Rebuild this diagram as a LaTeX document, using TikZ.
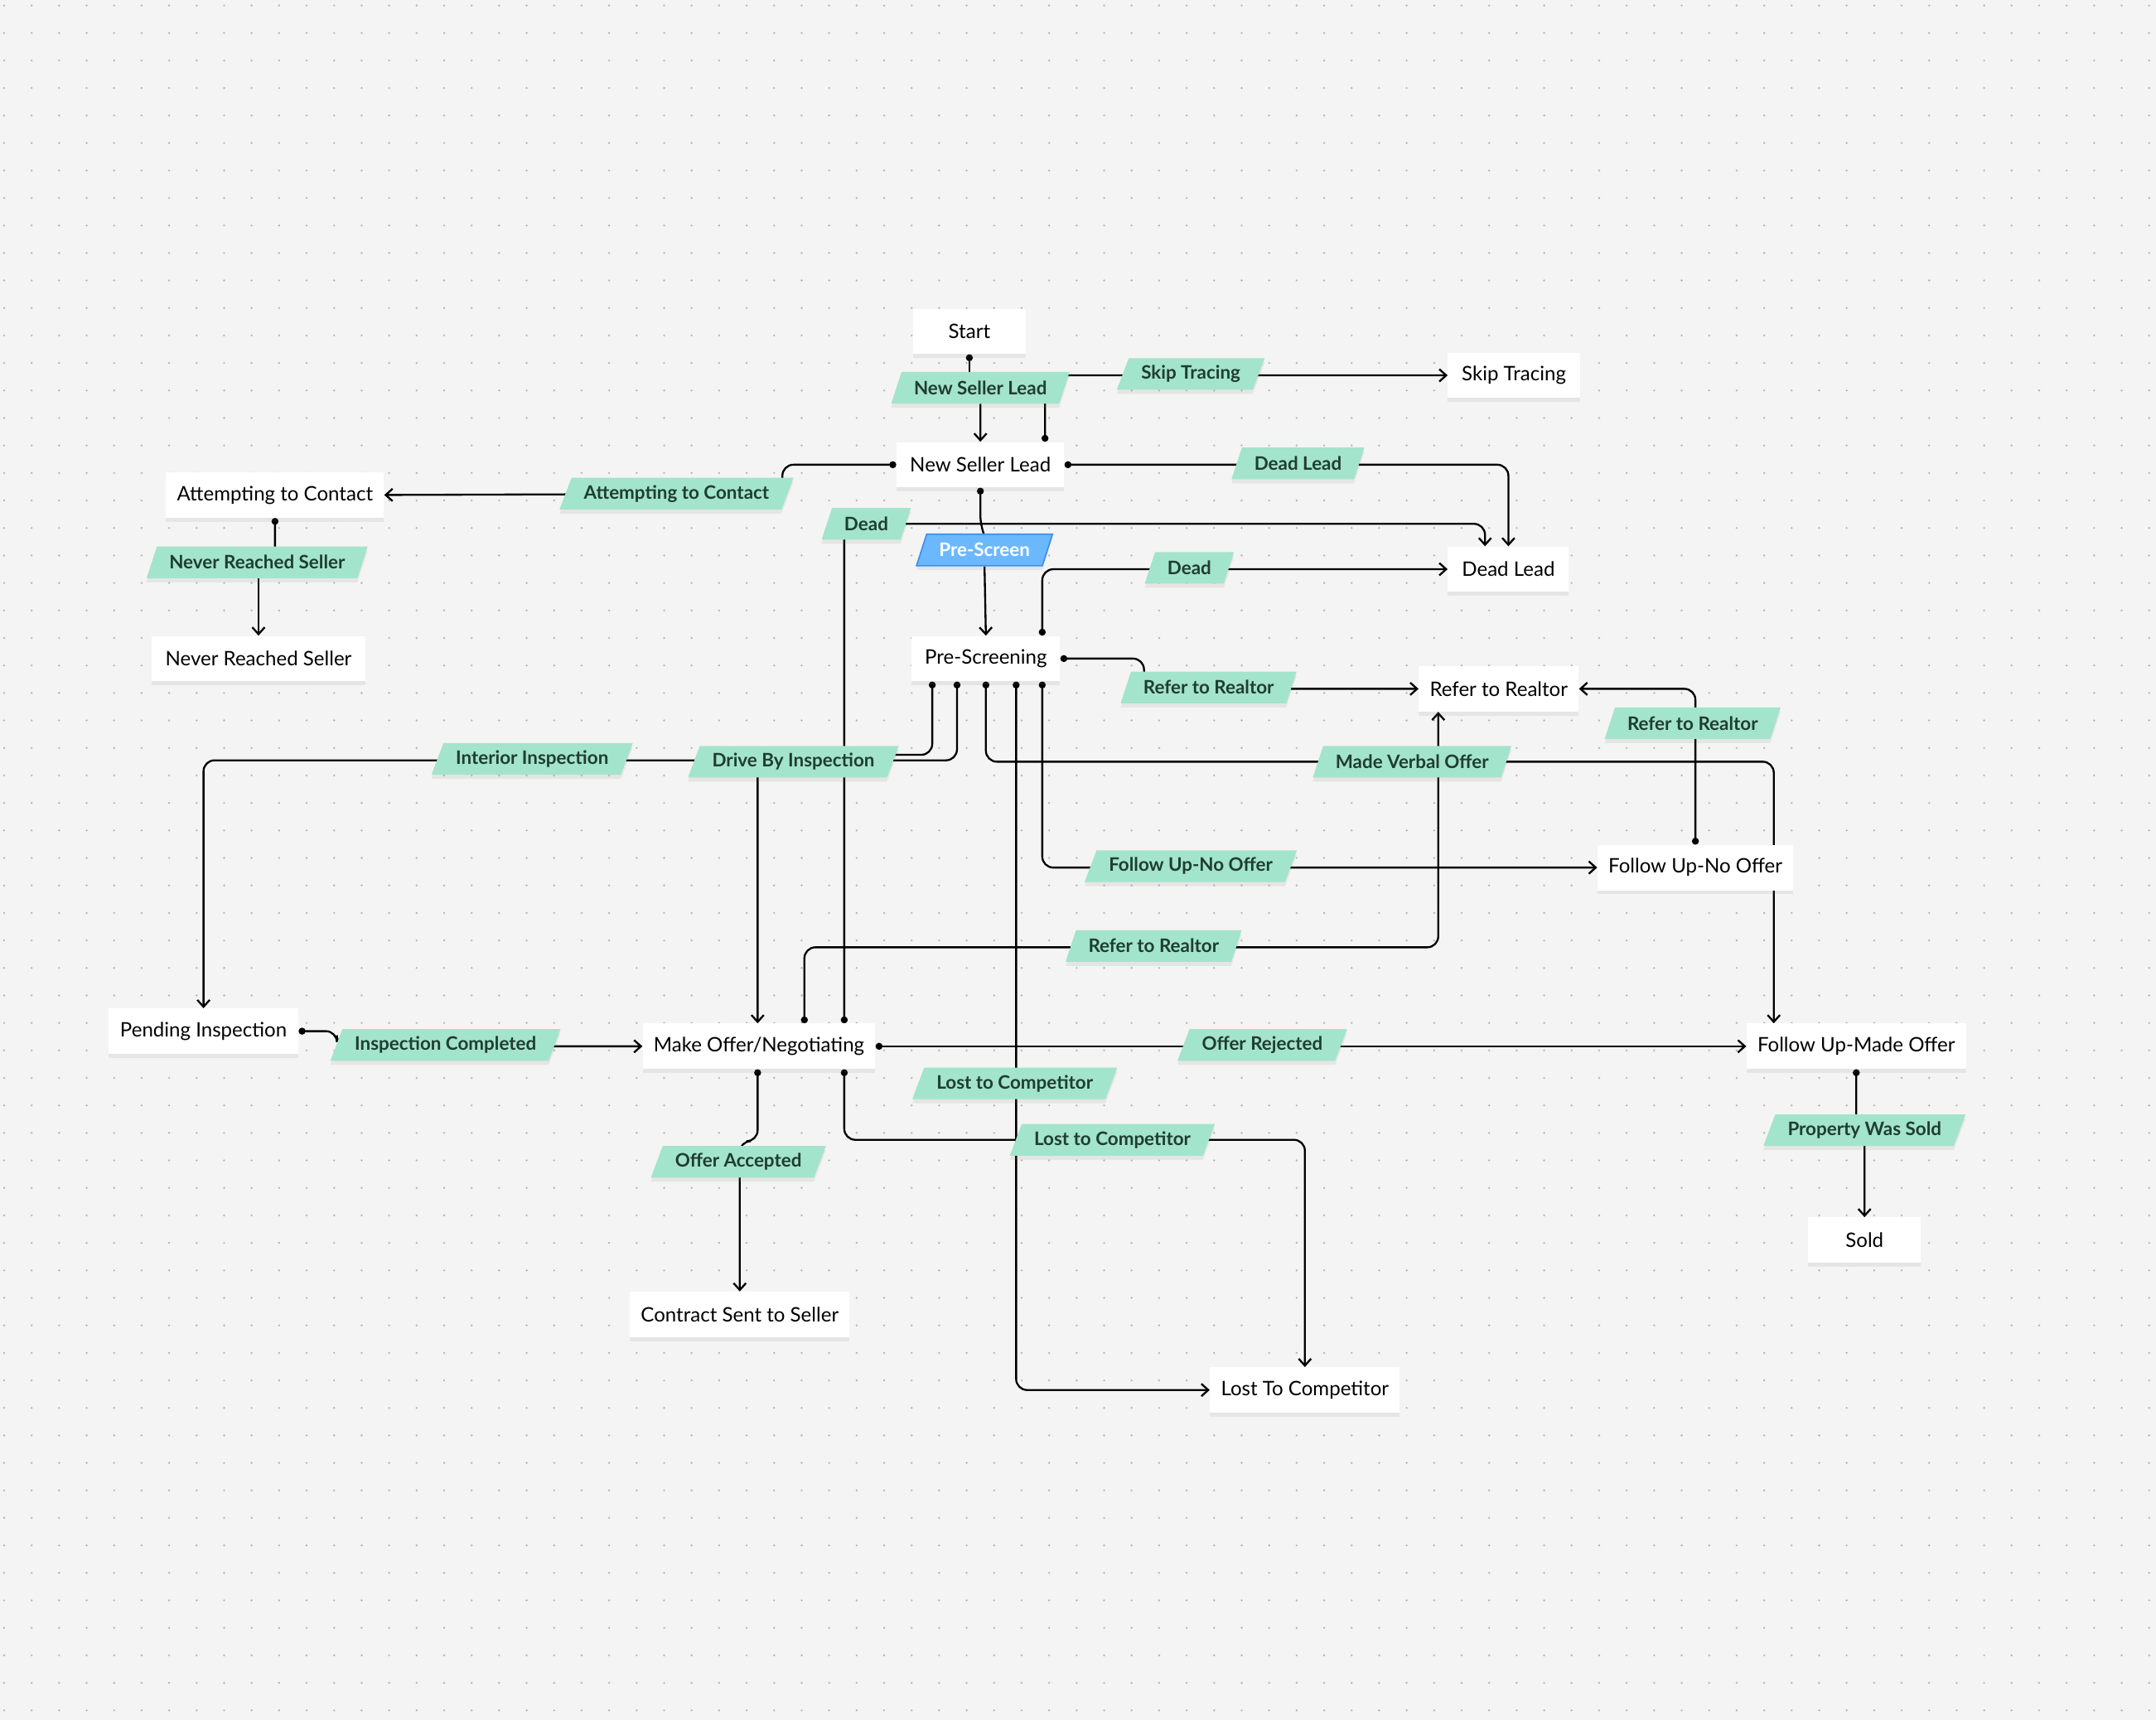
\documentclass[tikz,border=0pt]{standalone}
\usepackage{fontspec}
\setmainfont{Lato}
\usetikzlibrary{arrows.meta,shapes.geometric,shadows}
\definecolor{bgc}{HTML}{F4F4F4}
\definecolor{dotc}{HTML}{B5B5B5}
\definecolor{lblf}{HTML}{A3E4CC}
\definecolor{lblt}{HTML}{1F3D33}
\definecolor{bluef}{HTML}{6BB8FF}
\definecolor{blued}{HTML}{3D8FE8}
\pgfdeclarelayer{grid}\pgfdeclarelayer{edges}
\pgfsetlayers{grid,edges,main}
\tikzset{
 box/.style={draw=none,fill=white,minimum height=33pt,inner xsep=8pt,font=\fontsize{14.5}{16}\selectfont,
   drop shadow={opacity=0.12,shadow xshift=0pt,shadow yshift=-3pt}},
 lbl/.style={trapezium,trapezium left angle=62,trapezium right angle=118,trapezium stretches body,
   fill=lblf,text=lblt,minimum height=23pt,inner xsep=9pt,inner ysep=2pt,font=\bfseries\fontsize{13.5}{15}\selectfont,
   drop shadow={opacity=0.12,shadow xshift=0pt,shadow yshift=-3pt}},
 bluelbl/.style={lbl,fill=bluef,draw=blued,line width=1pt,text=white},
 conn/.style={draw=black,line width=1.4pt,rounded corners=8pt},
 arr/.style={conn,-{Straight Barb[length=5pt,width=9pt]}},
 darr/.style={conn,{Circle[length=5pt]}-{Straight Barb[length=5pt,width=9pt]}},
 dline/.style={conn,{Circle[length=5pt]}-},
}
\begin{document}
\begin{tikzpicture}[x=1pt,y=-1pt]
\useasboundingbox (0,0) rectangle (1568,1251);
\begin{pgfonlayer}{grid}
\fill[bgc] (0,0) rectangle (1568,1251);
\foreach \i in {0,...,78}{\foreach \j in {0,...,62}{\fill[dotc] (3+\i*20,4+\j*20) circle (0.8pt);}}
\end{pgfonlayer}
% main nodes
\node[box,minimum width=82pt] (start) at (705,241) {Start};
\node[box,minimum width=96pt] (st) at (1101,273) {Skip Tracing};
\node[box,minimum width=122pt] (nsl) at (713,338) {New Seller Lead};
\node[box,minimum width=88pt] (dl) at (1097,414) {Dead Lead};
\node[box,minimum width=156pt] (atc) at (200,360) {Attempting to Contact};
\node[box,minimum width=156pt] (nrs) at (188,479) {Never Reached Seller};
\node[box,minimum width=108pt] (ps) at (717,479) {Pre-Screening};
\node[box,minimum width=114pt] (rr) at (1090,501) {Refer to Realtor};
\node[box,minimum width=138pt] (fno) at (1233,631) {Follow Up-No Offer};
\node[box,minimum width=138pt] (pi) at (148,750) {Pending Inspection};
\node[box,minimum width=166pt] (mo) at (552,761) {Make Offer/Negotiating};
\node[box,minimum width=158pt] (fmo) at (1350,761) {Follow Up-Made Offer};
\node[box,minimum width=82pt] (sold) at (1356,902) {Sold};
\node[box,minimum width=158pt] (cs) at (538,956) {Contract Sent to Seller};
\node[box,minimum width=138pt] (lc) at (949,1011) {Lost To Competitor};
% labels
\node[lbl] (lNSL) at (713,282) {New Seller Lead};
\node[lbl] (lST) at (866,272) {Skip Tracing};
\node[lbl] (lDL) at (944,337) {Dead Lead};
\node[lbl] (lATC) at (492,359) {Attempting to Contact};
\node[lbl] (lD1) at (630,381) {Dead};
\node[bluelbl] (lPS) at (716,400) {Pre-Screen};
\node[lbl] (lD2) at (865,413) {Dead};
\node[lbl] (lNRS) at (187,409) {Never Reached Seller};
\node[lbl] (lRR1) at (879,500) {Refer to Realtor};
\node[lbl] (lRR2) at (1231,526) {Refer to Realtor};
\node[lbl] (lII) at (387,552) {Interior Inspection};
\node[lbl] (lDBI) at (577,554) {Drive By Inspection};
\node[lbl] (lMVO) at (1027,554) {Made Verbal Offer};
\node[lbl] (lFNO) at (866,630) {Follow Up-No Offer};
\node[lbl] (lRR3) at (839,688) {Refer to Realtor};
\node[lbl] (lIC) at (324,760) {Inspection Completed};
\node[lbl] (lOR) at (918,760) {Offer Rejected};
\node[lbl] (lLC1) at (738,788) {Lost to Competitor};
\node[lbl] (lLC2) at (809,829) {Lost to Competitor};
\node[lbl] (lPWS) at (1356,822) {Property Was Sold};
\node[lbl] (lOA) at (537,845) {Offer Accepted};
% connectors
\begin{pgfonlayer}{edges}
\draw[dline] (start.south) -- (705,272);
\draw[arr] (lNSL.south) -- (nsl.north);
\draw[darr] ([xshift=47pt]nsl.north) |- (st.west);
\draw[darr] (nsl.east) -| (dl.north);
\draw[darr] (nsl.west) -- (569,338) -- (569,359) -- (atc.east);
\draw[dline] (atc.south) -- (200,409) -- (188,409);
\draw[arr] (188,409) -- (nrs.north);
\draw[dline] (nsl.south) -- (713,383) -- (717,392);
\draw[arr] (lPS.south) -- (ps.north);
\draw[darr] ([xshift=62pt]mo.north) -- (614,381) -- (1080,381) -- ([xshift=-17pt]dl.north);
\draw[darr] ([xshift=41pt]ps.north) |- (dl.west);
\draw[darr] (ps.east) -- (832,479) -- (832,501) -- (rr.west);
\draw[darr] (fno.north) |- (rr.east);
\draw[darr] ([xshift=-39pt]ps.south) -- (678,549) -- (551,549) -- ([xshift=-1pt]mo.north);
\draw[darr] ([xshift=-21pt]ps.south) -- (696,553) -- (148,553) -- (pi.north);
\draw[darr] (ps.south) -- (717,554) -- (1290,554) -- ([xshift=-60pt]fmo.north);
\draw[darr] ([xshift=22pt]ps.south) |- (lc.west);
\draw[darr] ([xshift=41pt]ps.south) |- (fno.west);
\draw[darr] ([xshift=33pt]mo.north) -- (585,689) -- (1046,689) -- ([xshift=-44pt]rr.south);
\draw[darr] (pi.east) -- (245,750) -- (245,761) -- (mo.west);
\draw[darr] (mo.east) -- (fmo.west);
\draw[darr] ([xshift=-1pt]mo.south) -- (551,830) -- (538,830) -- (cs.north);
\draw[darr] ([xshift=62pt]mo.south) |- (949,829) -- (lc.north);
\draw[darr] (fmo.south) -- (1350,822) -- (1356,822) -- (sold.north);
\end{pgfonlayer}
\end{tikzpicture}
\end{document}
